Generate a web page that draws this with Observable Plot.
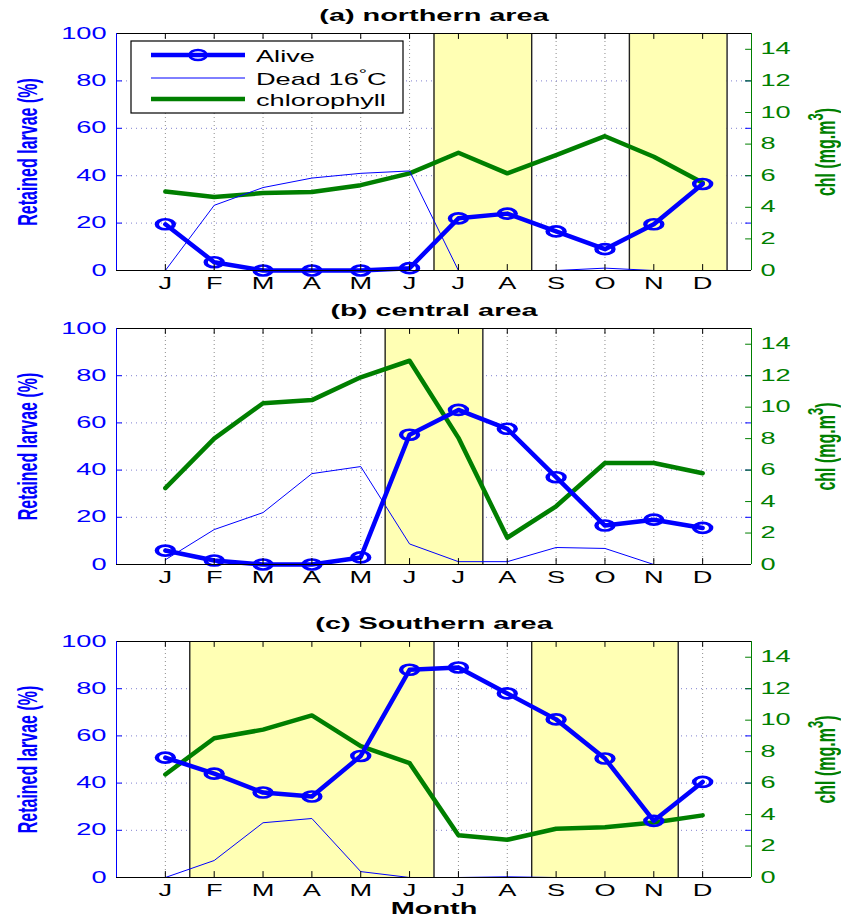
<!DOCTYPE html>
<html><head><meta charset="utf-8">
<script src="https://cdn.jsdelivr.net/npm/d3@7"></script>
<script src="https://cdn.jsdelivr.net/npm/@observablehq/plot@0.6"></script>
<style>
body{margin:0;background:#fff}
#wrap{position:relative;width:841px;height:919px;overflow:hidden;background:#fff}
.panel{position:absolute;left:0}
</style>
</head><body><div id="wrap"></div>
<script>
// ---- data ----
const monthLabels = ["J","F","M","A","M","J","J","A","S","O","N","D"];
const monthIndex = [1,2,3,4,5,6,7,8,9,10,11,12];
const leftTicks = [0,20,40,60,80,100];
const chlTicks = [0,2,4,6,8,10,12,14];

const titleA = "(a) northern area";
const aliveA = [19.5, 3.5, 0, 0, 0, 1, 22, 24, 16.5, 9, 19.5, 36.5];
const deadA  = [0, 27.5, 35, 39, 41, 42, 0, 0, 0, 1, 0, 0];
const chlA   = [5.0, 4.65, 4.9, 4.97, 5.4, 6.15, 7.45, 6.15, 7.3, 8.5, 7.2, 5.55];
const shadeA = [[6.5, 8.5], [10.5, 12.5]];

const titleB = "(b) central area";
const aliveB = [5.9, 1.7, 0, 0, 3, 55, 65.5, 57.5, 37, 16.5, 19, 15.5];
const deadB  = [2, 14.8, 22, 38.5, 41.5, 8.7, 1.2, 1.2, 7.2, 6.8, 0, 0];
const chlB   = [4.85, 8.0, 10.25, 10.45, 11.9, 12.95, 8.05, 1.7, 3.7, 6.45, 6.45, 5.8];
const shadeB = [[5.5, 7.5]];

const titleC = "(c) Southern area";
const aliveC = [50.8, 44, 36, 34.3, 51.5, 88, 89, 78, 67, 50.4, 24, 40.5];
const deadC  = [0, 7.2, 23.2, 25, 2.5, 0, 0, 0.3, 0, 0, 0, 0];
const chlC   = [6.55, 8.85, 9.4, 10.3, 8.35, 7.27, 2.68, 2.4, 3.1, 3.2, 3.5, 3.95];
const shadeC = [[1.5, 6.5], [8.5, 11.5]];

const yLabelLeft = "Retained larvae (%)";
const yLabelRight = ["chl (mg.m", "3", ")"];
const xLabel = "Month";
const legendLabels = [["Alive"], ["Dead 16", "°", "C"], ["chlorophyll"]];

// ---- style ----
const BLUE = "#0000ff", GREEN = "#007f00", YELLOW = "#ffffb4";
const CHL_MAX = 15;
const SX = 1.7;
const FONT = "'Liberation Sans', Arial, Helvetica, sans-serif";

// write a label as plain text + raised part (superscript) using tspans
function superscript(t, parts, shift, size) {
  t.textContent = "";
  const ns = "http://www.w3.org/2000/svg";
  t.appendChild(document.createTextNode(parts[0]));
  const sup = document.createElementNS(ns, "tspan");
  sup.setAttribute("dy", -shift); sup.setAttribute("font-size", size); sup.textContent = parts[1];
  t.appendChild(sup);
  const rest = document.createElementNS(ns, "tspan");
  rest.setAttribute("dy", shift); rest.textContent = parts[2];
  t.appendChild(rest);
}

function stretch(svg) {
  svg.querySelectorAll("text").forEach(t => {
    const tr = t.getAttribute("transform") || "";
    const m = tr.match(/^\s*translate\(([^)]*)\)(.*)$/);
    if (m) t.setAttribute("transform", `translate(${m[1]}) scale(${SX},1)${m[2]}`);
    else {
      const x = +t.getAttribute("x") || 0, y = +t.getAttribute("y") || 0;
      t.setAttribute("transform", `translate(${x},${y}) scale(${SX},1) translate(${-x},${-y})` + (tr ? " " + tr : ""));
    }
  });
  svg.querySelectorAll("g[aria-label=dot] circle").forEach(c => {
    const x = +c.getAttribute("cx"), y = +c.getAttribute("cy");
    c.setAttribute("transform", `translate(${x},${y}) scale(${SX},1) translate(${-x},${-y})`);
  });
}

function panel({title, alive, dead, chl, shade, top, height, marginBottom, xlabel}) {
  const rows = monthIndex.map((m, i) => ({m, alive: alive[i], dead: dead[i], chl: chl[i]}));
  const toY = v => v * 100 / CHL_MAX;
  const marks = [
    Plot.ruleX(monthIndex, {stroke: "#8c8c8c", strokeDasharray: "1,3"}),
    Plot.ruleY(leftTicks.slice(1, -1), {stroke: "#8080d0", strokeDasharray: "1,4"}),
    Plot.rect(shade, {x1: d => d[0], x2: d => d[1], fill: YELLOW}),
    Plot.ruleX(shade.flat(), {stroke: "#222", strokeWidth: 1.4}),
    Plot.line(rows, {x: "m", y: d => toY(d.chl), stroke: GREEN, strokeWidth: 4.5}),
    Plot.line(rows, {x: "m", y: "dead", stroke: BLUE, strokeWidth: 1}),
    Plot.line(rows, {x: "m", y: "alive", stroke: BLUE, strokeWidth: 4.5}),
    Plot.dot(rows, {x: "m", y: "alive", r: 5, stroke: BLUE, strokeWidth: 2.6, fill: "none"}),
    Plot.ruleX(monthIndex, {y1: 100, y2: 97.5, stroke: "black"}),
    Plot.ruleX(monthIndex, {y1: 0, y2: 2.5, stroke: "black"}),
    Plot.ruleY(leftTicks, {x1: 0, x2: 0.12, stroke: BLUE}),
    Plot.ruleY(leftTicks, {x1: 13, x2: 12.88, stroke: BLUE}),
    Plot.ruleY(chlTicks, {y: toY, x1: 13, x2: 12.88, stroke: GREEN}),
    Plot.ruleY([0, 100], {stroke: "black"}),
    Plot.ruleX([0], {stroke: BLUE}),
    Plot.ruleX([13], {stroke: GREEN}),
    Plot.axisX({ticks: monthIndex, tickFormat: i => monthLabels[i - 1], tickSize: 0, tickPadding: 7, color: "black", fontSize: 16, label: null}),
    Plot.axisY({ticks: leftTicks, tickSize: 0, tickPadding: 10, color: BLUE, fontSize: 16, label: null}),
    Plot.axisY({anchor: "right", ticks: chlTicks.map(toY), tickFormat: v => Math.round(v * CHL_MAX / 100), tickSize: 0, tickPadding: 9, color: GREEN, fontSize: 16, label: null}),
    Plot.text([title], {text: d => d, frameAnchor: "top", lineAnchor: "middle", textAnchor: "middle", dy: -18, fontWeight: "bold", fontSize: 17, fill: "black"}),
    Plot.text([yLabelLeft], {text: d => d, frameAnchor: "left", lineAnchor: "middle", textAnchor: "middle", rotate: -90, dx: -88, fill: BLUE, fontWeight: "bold", fontSize: 16}),
    Plot.text([yLabelRight.join("")], {text: d => d, frameAnchor: "right", lineAnchor: "middle", textAnchor: "middle", rotate: -90, dx: 75, fill: GREEN, fontWeight: "bold", fontSize: 16, className: "rlabel"})
  ];
  if (xlabel) marks.push(Plot.text([xlabel], {text: d => d, frameAnchor: "bottom", lineAnchor: "middle", textAnchor: "middle", dy: 31, fontWeight: "bold", fontSize: 17, fill: "black"}));
  const chart = Plot.plot({
    width: 841, height,
    marginLeft: 116, marginRight: 90, marginTop: 33, marginBottom,
    x: {domain: [0, 13], axis: null},
    y: {domain: [0, 100], axis: null},
    style: {fontFamily: FONT, fontSize: "16px", background: "transparent", overflow: "visible"},
    marks
  });
  chart.querySelectorAll(".rlabel text").forEach(t => superscript(t, yLabelRight, 7, 13));
  chart.classList.add("panel");
  chart.style.top = top + "px";
  return chart;
}

const wrap = document.getElementById("wrap");
const pa = panel({title: titleA, alive: aliveA, dead: deadA, chl: chlA, shade: shadeA, top: 0, height: 300, marginBottom: 30});
const pb = panel({title: titleB, alive: aliveB, dead: deadB, chl: chlB, shade: shadeB, top: 295, height: 299, marginBottom: 30});
const pc = panel({title: titleC, alive: aliveC, dead: deadC, chl: chlC, shade: shadeC, top: 608, height: 311, marginBottom: 42, xlabel: xLabel});

// legend in panel (a)
const lg = d3.select(pa).append("g").attr("font-family", FONT).attr("font-size", 16).attr("text-anchor", "start");
lg.append("rect").attr("x", 131).attr("y", 41).attr("width", 272).attr("height", 72).attr("fill", "white").attr("stroke", "black").attr("stroke-width", 1.2);
const legendStyles = [
  {stroke: BLUE, w: 4.5, y: 55, marker: true},
  {stroke: BLUE, w: 1, y: 78, marker: false},
  {stroke: GREEN, w: 4.5, y: 99, marker: false}
];
legendLabels.forEach((lab, i) => {
  const s = legendStyles[i];
  lg.append("line").attr("x1", 151).attr("x2", 245).attr("y1", s.y).attr("y2", s.y).attr("stroke", s.stroke).attr("stroke-width", s.w);
  if (s.marker) lg.append("ellipse").attr("cx", 198).attr("cy", s.y).attr("rx", 8.5).attr("ry", 5).attr("fill", "none").attr("stroke", s.stroke).attr("stroke-width", 2.6);
  const t = lg.append("text").attr("x", 256).attr("y", s.y + 7).attr("fill", "black");
  if (lab.length === 1) t.text(lab[0]);
  else superscript(t.node(), lab, 7, 12);
});

[pa, pb, pc].forEach(p => { stretch(p); wrap.appendChild(p); });
</script>
</body></html>
